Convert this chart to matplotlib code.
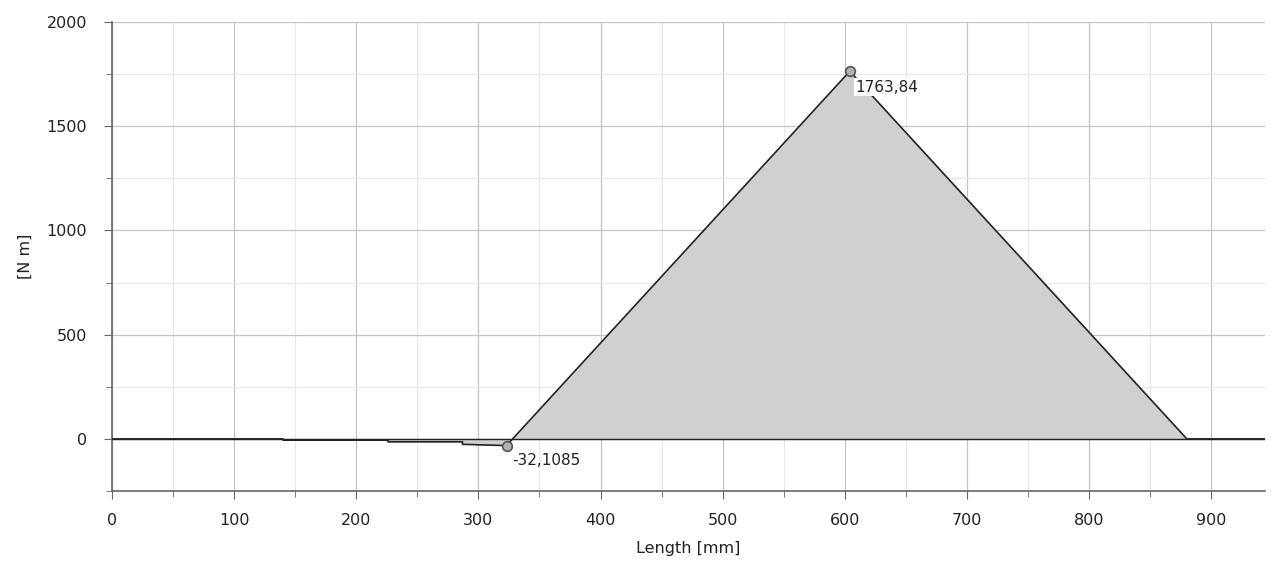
import matplotlib
matplotlib.use("Agg")
import matplotlib.pyplot as plt
from matplotlib.ticker import MultipleLocator

# data
x_vals = [0, 140, 140, 226, 226, 287, 287, 323, 604, 880, 945]
y_vals = [0, 0, -6, -6, -14, -14, -26, -32.1085, 1763.84, 0, 0]
peak_x, peak_y = 604, 1763.84
min_x, min_y = 323, -32.1085
peak_label = "1763,84"
min_label = "-32,1085"
xlabel = "Length [mm]"
ylabel = "[N m]"

fig = plt.figure(figsize=(12.71, 5.66), dpi=100)
ax = fig.add_axes([0.0881, 0.1325, 0.9072, 0.8285])

ax.fill_between(x_vals, y_vals, 0, color="#d0d0d0", linewidth=0, zorder=1)
ax.plot(x_vals, y_vals, color="#222222", linewidth=1.2, zorder=3)
ax.axhline(0, color="#222222", linewidth=1.0, zorder=2)

ax.plot([peak_x], [peak_y], "o", markersize=7, markerfacecolor="#b0b0b0",
        markeredgecolor="#555555", markeredgewidth=1.2, zorder=4)
ax.plot([min_x], [min_y], "o", markersize=7, markerfacecolor="#b0b0b0",
        markeredgecolor="#555555", markeredgewidth=1.2, zorder=4)
ax.annotate(peak_label, (peak_x, peak_y), xytext=(4, -6), textcoords="offset points",
            ha="left", va="top", fontsize=11, color="#222222",
            bbox=dict(facecolor="white", edgecolor="none", pad=1), zorder=5)
ax.annotate(min_label, (min_x, min_y), xytext=(4, -5), textcoords="offset points",
            ha="left", va="top", fontsize=11, color="#222222", zorder=5)

ax.set_xlim(0, 944)
ax.set_ylim(-250, 2000)
ax.xaxis.set_major_locator(MultipleLocator(100))
ax.xaxis.set_minor_locator(MultipleLocator(50))
ax.yaxis.set_major_locator(MultipleLocator(500))
ax.yaxis.set_minor_locator(MultipleLocator(250))

ax.grid(which="major", color="#c4c4c4", linewidth=0.9, zorder=0)
ax.grid(which="minor", color="#e8e8e8", linewidth=0.9, zorder=0)
ax.set_axisbelow(True)

for s in ["top", "right"]:
    ax.spines[s].set_visible(False)
for s in ["left", "bottom"]:
    ax.spines[s].set_color("#666666")
    ax.spines[s].set_linewidth(1.2)

ax.tick_params(which="major", length=6, color="#666666", labelsize=11.5, labelcolor="#222222")
ax.tick_params(axis="x", which="major", pad=10)
ax.tick_params(axis="y", which="major", pad=12)
ax.tick_params(which="minor", length=4, color="#666666")

ax.set_xlabel(xlabel, fontsize=11.5, color="#222222", labelpad=9)
ax.set_ylabel(ylabel, fontsize=11.5, color="#222222", labelpad=10)

fig.savefig("out.png", dpi=100)
